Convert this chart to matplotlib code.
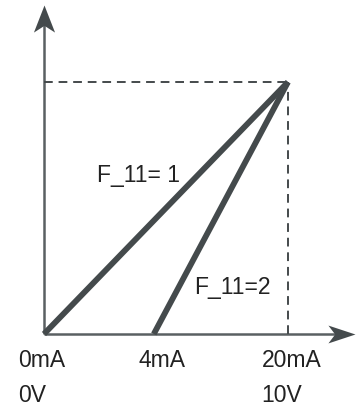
import matplotlib
matplotlib.use('Agg')
import matplotlib.pyplot as plt
from matplotlib.path import Path

# schematic: input signal (x) vs output (y), two F_11 settings
x_ticks = [0, 4.5, 10]          # drawn positions of 0mA, 4mA, 20mA
mA_labels = ['0mA', '4mA', '20mA']
V_labels = ['0V', '', '10V']
y_max = 10

line1_x = [0, 10]
line1_y = [0, 10]
line2_x = [4.5, 10]
line2_y = [0, 10]

dark = '#444a4c'
axis_col = '#5a6062'
text_col = '#222222'

plt.rcParams['font.family'] = ['Liberation Sans', 'DejaVu Sans']

fig = plt.figure(figsize=(3.6, 4.07), dpi=100)
ax = fig.add_axes([0, 0, 1, 1])
ax.set_xlim(-1.803, 12.951)
ax.set_ylim(-2.897, 13.254)
ax.axis('off')

# notched arrow heads (tip at the marker origin)
up_head = Path([(0, 0), (-0.39, -1), (0, -0.75), (0.39, -1), (0, 0)],
               [Path.MOVETO, Path.LINETO, Path.LINETO, Path.LINETO, Path.CLOSEPOLY])
right_head = Path([(0, 0), (-1, 0.33), (-0.75, 0), (-1, -0.33), (0, 0)],
                  [Path.MOVETO, Path.LINETO, Path.LINETO, Path.LINETO, Path.CLOSEPOLY])

ax.plot([0, 12.2], [0, 0], color=axis_col, lw=1.8, solid_capstyle='butt')
ax.plot([0, 0], [0, 12.5], color=axis_col, lw=1.8, solid_capstyle='butt')
ax.plot([12.75], [0], marker=right_head, markersize=39, color=dark, mew=0)
ax.plot([0], [13.05], marker=up_head, markersize=39, color=dark, mew=0)

# dashed guides to the full-scale point
ax.plot([0, x_ticks[-1]], [y_max, y_max], color=dark, lw=1.4,
        linestyle=(0, (4.5, 3)))
ax.plot([x_ticks[-1], x_ticks[-1]], [0, y_max], color=dark, lw=1.4,
        linestyle=(0, (4.5, 3)))

# characteristic lines
ax.plot(line1_x, line1_y, color=dark, lw=4.2, solid_capstyle='butt')
ax.plot(line2_x, line2_y, color=dark, lw=4.2, solid_capstyle='butt')

# tick labels
offsets = [-1.08, -0.62, -1.08]
for xp, ma, v, off in zip(x_ticks, mA_labels, V_labels, offsets):
    ax.text(xp + off, -1.31, ma, fontsize=16.5, color=text_col,
            ha='left', va='baseline')
    if v:
        ax.text(xp + off, -2.70, v, fontsize=16.5, color=text_col,
                ha='left', va='baseline')

ax.text(2.17, 6.03, 'F_11= 1', fontsize=16.5, color=text_col,
        ha='left', va='baseline')
ax.text(6.15, 1.59, 'F_11=2', fontsize=16.5, color=text_col,
        ha='left', va='baseline')

fig.savefig('out.png', dpi=100)
